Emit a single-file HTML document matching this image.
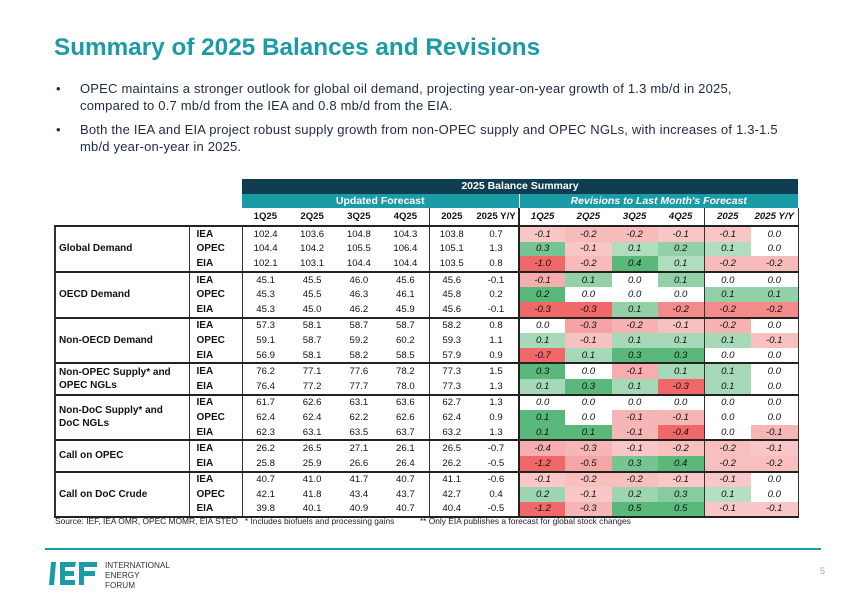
<!DOCTYPE html>
<html><head><meta charset="utf-8">
<style>
body{margin:0;width:867px;height:600px;background:#fff;position:relative;overflow:hidden;font-family:"Liberation Sans",Arial,sans-serif;}
#title{position:absolute;left:54px;top:33px;font-size:24.3px;font-weight:bold;color:#1a9ba6;margin:0;line-height:30px;}
.bul{position:absolute;left:80px;width:712px;font-size:13px;letter-spacing:0.2px;line-height:16.5px;color:#1e2a44;}
.bul:before{content:"•";position:absolute;left:-24px;}
#tbl{position:absolute;left:54px;top:179px;border-collapse:collapse;table-layout:fixed;font-size:9.6px;color:#111;line-height:11px;}
#tbl td{padding:0;text-align:center;overflow:hidden;white-space:nowrap;}
.h1{background:#0f3d52;color:#fff;font-weight:bold;font-size:10.5px;height:15px;}
.h2{background:#1a9ba6;color:#fff;font-weight:bold;font-size:10.5px;height:14px;}
.h2i{font-style:italic;}
.ch td{font-weight:bold;height:17px;border-bottom:1px solid #222;}
.ch td.ri{font-style:italic;}
tr.d td{height:14.6px;line-height:11px;}
td.lab{text-align:left !important;padding-left:3px !important;font-weight:bold;border-left:2px solid #333;border-right:1px solid #333;font-size:10px;white-space:pre-line !important;line-height:13px !important;}
td.src{text-align:left !important;padding-left:7px !important;font-weight:bold;font-size:10px;}
td.rv{font-style:italic;}
td.sep{border-left:1px solid #333;}
td.sep2{border-left:2px solid #222;}
td.endc{border-right:1px solid #333;}
tr.gs td{border-top:2px solid #222;}
#src{position:absolute;left:55px;top:516px;font-size:8.4px;color:#222;white-space:pre;}
#foot{position:absolute;left:45px;top:548px;width:776px;height:1.5px;background:#1a9ba6;}
#pg{position:absolute;left:820px;top:566px;font-size:9px;color:#aaa;}
</style></head><body>
<h1 id="title">Summary of 2025 Balances and Revisions</h1>
<div class="bul" style="top:81px">OPEC maintains a stronger outlook for global oil demand, projecting year-on-year growth of 1.3 mb/d in 2025, compared to 0.7 mb/d from the IEA and 0.8 mb/d from the EIA.</div>
<div class="bul" style="top:122px">Both the IEA and EIA project robust supply growth from non-OPEC supply and OPEC NGLs, with increases of 1.3-1.5 mb/d year-on-year in 2025.</div>

<table id="tbl">
<colgroup><col style="width:134px"><col style="width:53px">
<col style="width:46.75px"><col style="width:46.75px"><col style="width:46.75px"><col style="width:46.75px"><col style="width:45px"><col style="width:45px">
<col style="width:46.25px"><col style="width:46.25px"><col style="width:46.25px"><col style="width:46.25px"><col style="width:47px"><col style="width:47px"></colgroup>
<tbody id="tb">
<tr><td></td><td></td><td colspan="12" class="h1">2025 Balance Summary</td></tr>
<tr><td></td><td></td><td colspan="6" class="h2">Updated Forecast</td><td colspan="6" class="h2 h2i" style="border-left:1px solid #fff">Revisions to Last Month's Forecast</td></tr>
</tbody></table>

<div id="src">Source: IEF, IEA OMR, OPEC MOMR, EIA STEO   * Includes biofuels and processing gains           ** Only EIA publishes a forecast for global stock changes</div>
<div id="foot"></div>
<svg style="position:absolute;left:48px;top:558px" width="130" height="34">
<g fill="#1a9ba6"><path d="M3 4 L8 4 L6 27 L1 27 Z"/><path d="M12 4 L28 4 L27 9 L17 9 L17 13 L26 13 L26 18 L17 18 L17 22 L27 22 L27 27 L12 27 Z"/><path d="M31 4 L49 4 L49 9 L36 9 L36 13 L47 13 L47 18 L36 18 L36 27 L31 27 Z"/></g>
<text x="57" y="10" font-size="8.2" fill="#333" font-family="Liberation Sans">INTERNATIONAL</text>
<text x="57" y="20" font-size="8.2" fill="#333" font-family="Liberation Sans">ENERGY</text>
<text x="57" y="30" font-size="8.2" fill="#333" font-family="Liberation Sans">FORUM</text></svg>
<div id="pg">5</div>

<script>
const colHeaders=["1Q25","2Q25","3Q25","4Q25","2025","2025 Y/Y"];
const groups=["Global Demand","OECD Demand","Non-OECD Demand","Non-OPEC Supply* and\nOPEC NGLs","Non-DoC Supply* and\nDoC NGLs","Call on OPEC","Call on DoC Crude"];
const groupSources=[["IEA","OPEC","EIA"],["IEA","OPEC","EIA"],["IEA","OPEC","EIA"],["IEA","EIA"],["IEA","OPEC","EIA"],["IEA","EIA"],["IEA","OPEC","EIA"]];
const forecast=[
[[102.4,103.6,104.8,104.3,103.8,0.7],[104.4,104.2,105.5,106.4,105.1,1.3],[102.1,103.1,104.4,104.4,103.5,0.8]],
[[45.1,45.5,46.0,45.6,45.6,-0.1],[45.3,45.5,46.3,46.1,45.8,0.2],[45.3,45.0,46.2,45.9,45.6,-0.1]],
[[57.3,58.1,58.7,58.7,58.2,0.8],[59.1,58.7,59.2,60.2,59.3,1.1],[56.9,58.1,58.2,58.5,57.9,0.9]],
[[76.2,77.1,77.6,78.2,77.3,1.5],[76.4,77.2,77.7,78.0,77.3,1.3]],
[[61.7,62.6,63.1,63.6,62.7,1.3],[62.4,62.4,62.2,62.6,62.4,0.9],[62.3,63.1,63.5,63.7,63.2,1.3]],
[[26.2,26.5,27.1,26.1,26.5,-0.7],[25.8,25.9,26.6,26.4,26.2,-0.5]],
[[40.7,41.0,41.7,40.7,41.1,-0.6],[42.1,41.8,43.4,43.7,42.7,0.4],[39.8,40.1,40.9,40.7,40.4,-0.5]]];
const revisions=[
[[-0.1,-0.2,-0.2,-0.1,-0.1,0.0],[0.3,-0.1,0.1,0.2,0.1,0.0],[-1.0,-0.2,0.4,0.1,-0.2,-0.2]],
[[-0.1,0.1,0.0,0.1,0.0,0.0],[0.2,0.0,0.0,0.0,0.1,0.1],[-0.3,-0.3,0.1,-0.2,-0.2,-0.2]],
[[0.0,-0.3,-0.2,-0.1,-0.2,0.0],[0.1,-0.1,0.1,0.1,0.1,-0.1],[-0.7,0.1,0.3,0.3,0.0,0.0]],
[[0.3,0.0,-0.1,0.1,0.1,0.0],[0.1,0.3,0.1,-0.3,0.1,0.0]],
[[0.0,0.0,0.0,0.0,0.0,0.0],[0.1,0.0,-0.1,-0.1,0.0,0.0],[0.1,0.1,-0.1,-0.4,0.0,-0.1]],
[[-0.4,-0.3,-0.1,-0.2,-0.2,-0.1],[-1.2,-0.5,0.3,0.4,-0.2,-0.2]],
[[-0.1,-0.2,-0.2,-0.1,-0.1,0.0],[0.2,-0.1,0.2,0.3,0.1,0.0],[-1.2,-0.3,0.5,0.5,-0.1,-0.1]]];

function heat(v,maxP,minN){
  if(v>0){const t=Math.min(1,0.2+0.8*v/maxP);return mix([232,245,236],[90,184,122],t);}
  if(v<0){const t=Math.min(1,0.2+0.8*v/minN);return mix([252,234,234],[240,104,104],t);}
  return [255,255,255];
}
function mix(a,b,t){return a.map((x,i)=>Math.round(x+(b[i]-x)*t));}

const tb=document.getElementById('tb');
const ch=document.createElement('tr');ch.className='ch';


ch.appendChild(document.createElement('td'));ch.appendChild(document.createElement('td'));
for(let s=0;s<2;s++)colHeaders.forEach((h,i)=>{const td=document.createElement('td');td.textContent=h;
  
  
  if(s)td.className='ri';
  if(i==4)td.className+=' sep';
  if(s&&i==0)td.className+=' sep2';
  if(s&&i==5)td.className+=' endc';
  ch.appendChild(td);});
tb.appendChild(ch);

groups.forEach((g,gi)=>{
  let maxP=0,minN=0;
  revisions[gi].forEach(r=>r.forEach(v=>{if(v>maxP)maxP=v;if(v<minN)minN=v;}));
  groupSources[gi].forEach((src,ri)=>{
    const tr=document.createElement('tr');tr.className='d'+(ri==0?' gs':'');
    
    
    if(ri==0){const l=document.createElement('td');l.className='lab';l.rowSpan=groupSources[gi].length;l.textContent=g;
      
      
      if(gi==groups.length-1)l.style.borderBottom='2px solid #222';
      tr.appendChild(l);}
    const s=document.createElement('td');s.className='src';s.textContent=src;
    
    
    tr.appendChild(s);
    forecast[gi][ri].forEach((v,i)=>{const td=document.createElement('td');td.textContent=v.toFixed(1);
      
      
      if(i==0)td.className='sep';if(i==4)td.className='sep';tr.appendChild(td);});
    revisions[gi][ri].forEach((v,i)=>{const td=document.createElement('td');td.textContent=v.toFixed(1);
      
      
      td.className='rv'+(i==0?' sep2':'')+(i==4?' sep':'')+(i==5?' endc':'');
      const c=heat(v,maxP||1,minN||-1);td.style.background='rgb('+c.join(',')+')';tr.appendChild(td);});
    if(gi==groups.length-1&&ri==groupSources[gi].length-1)Array.from(tr.children).forEach(c=>c.style.borderBottom='2px solid #222');
    tb.appendChild(tr);
  });
});
</script>
</body></html>
